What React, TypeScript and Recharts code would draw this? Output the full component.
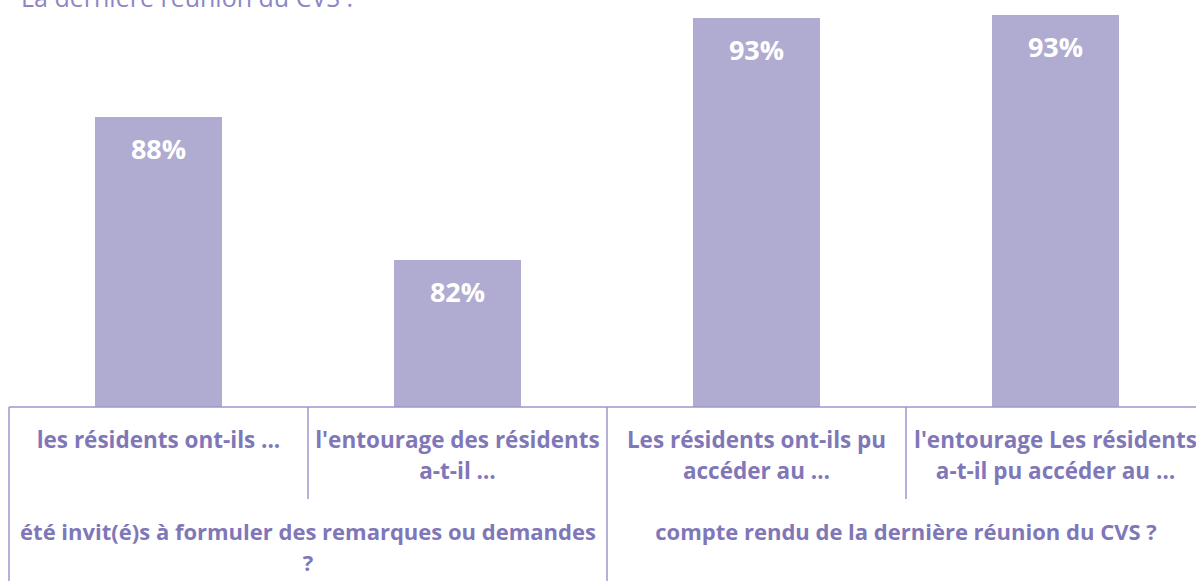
import React from "react";
import { BarChart, Bar, XAxis, YAxis, LabelList } from "recharts";

const categories = ["c1", "c2", "c3", "c4"];
const values = [88.18, 81.68, 92.68, 92.82];
const valueLabels = ["88%", "82%", "93%", "93%"];
const categoryLines = [
  ["les résidents ont-ils ..."],
  ["l'entourage des résidents", "a-t-il …"],
  ["Les résidents ont-ils pu", "accéder au …"],
  ["l'entourage Les résidents", "a-t-il pu accéder au …"],
];
const groupLines = [
  ["été invit(é)s à formuler des remarques ou demandes", "?"],
  ["compte rendu de la dernière réunion du CVS ?"],
];
const groupOfCategory = [0, 0, 1, 1];
const title = "La dernière réunion du CVS :";

const data = categories.map((c, i) => ({
  name: c,
  value: values[i],
  label: valueLabels[i],
}));

const TEXT = "#7F77B8";
const LINE = "#9D97CE";
const BAR = "#B0ABD1";
const FONT = "'Open Sans', sans-serif";

const CategoryTick = (props: any) => {
  const { x, y, payload, index, width, visibleTicksCount } = props;
  const n = visibleTicksCount || categories.length;
  const bw = (width || 0) / n;
  const i = typeof index === "number" ? index : payload.index;
  const lines = categoryLines[i] || [];
  const g = groupOfCategory[i];
  const first = groupOfCategory.indexOf(g);
  const span = groupOfCategory.filter((v) => v === g).length;
  const isGroupStart = first === i;
  const leftX = x - bw / 2;
  const els: any[] = [];
  els.push(
    <line
      key="l"
      x1={leftX}
      x2={leftX}
      y1={y}
      y2={isGroupStart ? y + 240 : y + 92}
      stroke={LINE}
      strokeWidth={1.5}
    />
  );
  if (i === n - 1) {
    els.push(
      <line key="r" x1={x + bw / 2} x2={x + bw / 2} y1={y} y2={y + 240} stroke={LINE} strokeWidth={1.5} />
    );
  }
  lines.forEach((t, k) => {
    els.push(
      <text
        key={"t" + k}
        x={x}
        y={y + 41 + k * 31}
        textAnchor="middle"
        fill={TEXT}
        fontFamily={FONT}
        fontWeight={700}
        fontSize={22.5}
      >
        {t}
      </text>
    );
  });
  if (isGroupStart) {
    const cx = leftX + (span * bw) / 2;
    groupLines[g].forEach((t, k) => {
      els.push(
        <text
          key={"g" + k}
          x={cx}
          y={y + 133 + k * 31}
          textAnchor="middle"
          fill={TEXT}
          fontFamily={FONT}
          fontWeight={700}
          fontSize={22}
        >
          {t}
        </text>
      );
    });
  }
  return <g>{els}</g>;
};

const ValueLabel = (props: any) => {
  const { x, y, width, value } = props;
  return (
    <text
      x={x + width / 2}
      y={y + 42}
      textAnchor="middle"
      fill="#FFFFFF"
      fontFamily={FONT}
      fontWeight={700}
      fontSize={27}
    >
      {value}
    </text>
  );
};

export default function App() {
  return (
    <div
      style={{
        position: "fixed",
        left: 0,
        top: 0,
        width: 1196,
        height: 581,
        overflow: "hidden",
        background: "#ffffff",
      }}
    >
      <div
        style={{
          position: "absolute",
          left: 21,
          top: -18,
          fontFamily: FONT,
          fontSize: 25,
          color: "#8D86C5",
          whiteSpace: "nowrap",
          lineHeight: "30px",
        }}
      >
        {title}
      </div>
      <div style={{ position: "absolute", left: 0, top: 0 }}>
        <BarChart
          width={1205}
          height={650}
          data={data}
          margin={{ top: 0, right: 0, bottom: 0, left: 9 }}
          barSize={127}
        >
          <YAxis hide domain={[75, 93.5]} allowDataOverflow type="number" />
          <XAxis
            dataKey="name"
            height={243}
            tickSize={0}
            tickMargin={0}
            tickLine={false}
            axisLine={{ stroke: LINE, strokeWidth: 1.5 }}
            interval={0}
            tick={<CategoryTick />}
          />
          <Bar dataKey="value" fill={BAR} isAnimationActive={false}>
            <LabelList dataKey="label" content={<ValueLabel />} />
          </Bar>
        </BarChart>
      </div>
    </div>
  );
}
